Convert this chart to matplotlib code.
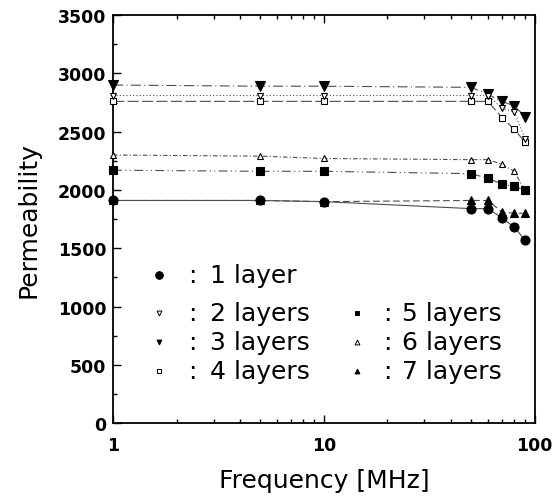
import matplotlib
matplotlib.use('Agg')
from matplotlib import pyplot as plt
from matplotlib.ticker import FixedLocator, FixedFormatter, MultipleLocator, LogLocator, NullFormatter

# measured permeability vs frequency for laminated cores
freq = [1, 5, 10, 50, 60, 70, 80, 90]
mu_1 = [1910, 1910, 1900, 1840, 1840, 1760, 1680, 1570]
mu_2 = [2810, 2810, 2810, 2810, 2810, 2700, 2670, 2440]
mu_3 = [2900, 2890, 2890, 2880, 2820, 2760, 2720, 2630]
mu_4 = [2760, 2760, 2760, 2760, 2760, 2620, 2520, 2410]
mu_5 = [2170, 2160, 2160, 2140, 2100, 2050, 2030, 2000]
mu_6 = [2300, 2290, 2270, 2260, 2260, 2220, 2160, 1990]
mu_7 = [1910, 1910, 1900, 1910, 1910, 1810, 1800, 1800]

labels = ['1 layer', '2 layers', '3 layers', '4 layers', '5 layers', '6 layers', '7 layers']
series = [mu_1, mu_2, mu_3, mu_4, mu_5, mu_6, mu_7]

# marker, filled?, size, linestyle
styles = [
    ('o', True, 6.5, '-'),
    ('v', False, 5, (0, (1, 2))),
    ('v', True, 6.5, (0, (9, 3, 1, 3))),
    ('s', False, 5, (0, (10, 3))),
    ('s', True, 5.5, (0, (8, 3, 1, 3, 1, 3))),
    ('^', False, 5, (0, (4, 2, 1, 2))),
    ('^', True, 6, (0, (6, 3))),
]

fig = plt.figure(figsize=(5.57, 5.02), dpi=100)
ax = fig.add_axes([0.203, 0.155, 0.757, 0.813])

# draw in reverse so the 1-layer circles sit on top
for i in range(len(series) - 1, -1, -1):
    m, filled, ms, ls = styles[i]
    ax.plot(freq, series[i], color='0.3', lw=0.8, linestyle=ls, zorder=2)
    ax.plot(freq, series[i], linestyle='none', marker=m, markersize=ms,
            markerfacecolor='black' if filled else 'white',
            markeredgecolor='black', markeredgewidth=0.8, zorder=3, clip_on=False)

ax.set_xscale('log')
ax.set_xlim(1, 100)
ax.set_ylim(0, 3500)

ax.xaxis.set_major_locator(FixedLocator([1, 10, 100]))
ax.xaxis.set_major_formatter(FixedFormatter(['1', '10', '100']))
ax.xaxis.set_minor_locator(LogLocator(base=10, subs=range(2, 10)))
ax.xaxis.set_minor_formatter(NullFormatter())
ax.yaxis.set_major_locator(MultipleLocator(500))
ax.yaxis.set_minor_locator(MultipleLocator(250))

ax.tick_params(which='both', direction='in', top=True, right=False, width=1)
ax.tick_params(which='major', length=6, labelsize=12.5)
ax.tick_params(axis='y', which='major', pad=5)
ax.tick_params(axis='x', which='major', pad=9)
ax.tick_params(which='minor', length=3)
for t in ax.get_xticklabels() + ax.get_yticklabels():
    t.set_fontweight('bold')

for sp in ax.spines.values():
    sp.set_linewidth(1.3)

ax.set_xlabel('Frequency [MHz]', fontsize=18, labelpad=10)
ax.set_ylabel('Permeability', fontsize=18, labelpad=12)

# legend written out by hand: two columns, second one starting on row two
rows_y = [0.362, 0.270, 0.199, 0.128]
pos = [(0, 0), (0, 1), (0, 2), (0, 3), (1, 1), (1, 2), (1, 3)]
cols_x = [(0.109, 0.187, 0.231), (0.578, 0.650, 0.686)]
for i, lab in enumerate(labels):
    c, r = pos[i]
    mx, cx, tx = cols_x[c]
    y = rows_y[r]
    m, filled, ms, ls = styles[i]
    ax.plot([mx], [y], transform=ax.transAxes, linestyle='none', marker=m,
            markersize=5.5 if i == 0 else 3.5,
            markerfacecolor='black' if filled else 'white',
            markeredgecolor='black', markeredgewidth=0.7)
    ax.text(cx, y, ':', transform=ax.transAxes, fontsize=18, ha='center', va='center')
    ax.text(tx, y, lab, transform=ax.transAxes, fontsize=18, ha='left', va='center')

plt.savefig('out.png', dpi=100)
